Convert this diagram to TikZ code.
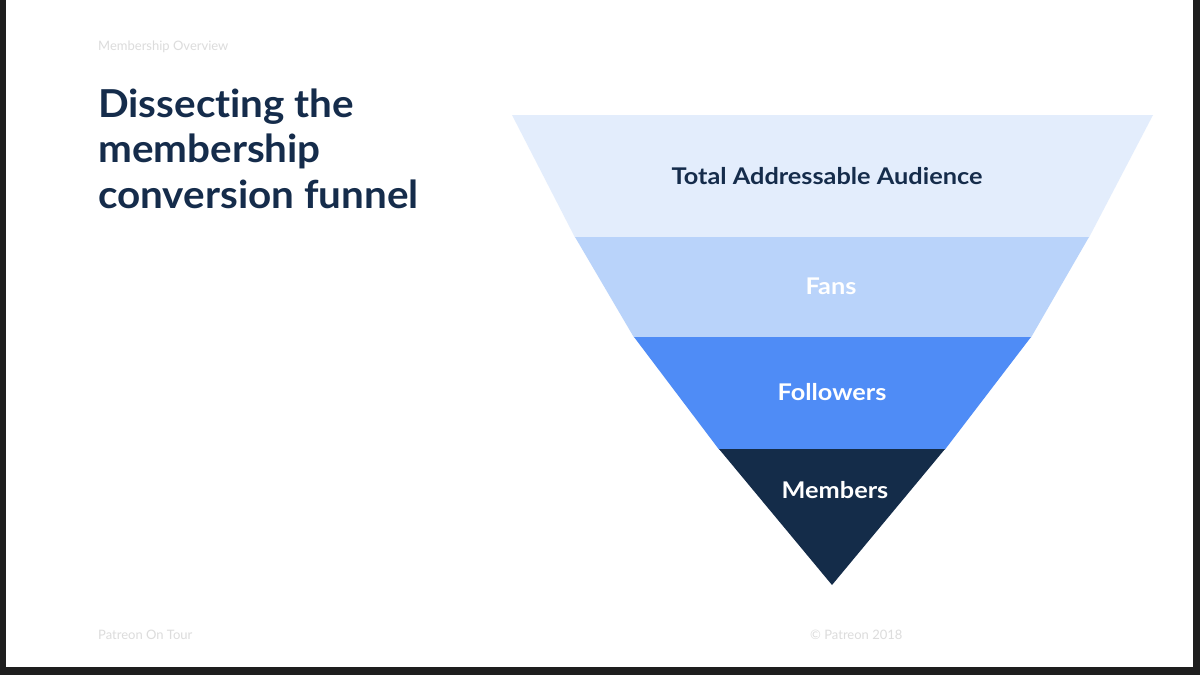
\documentclass[tikz,border=0pt]{standalone}
\usepackage{fontspec}
\setmainfont{Lato}[Ligatures={NoCommon,NoRare}]
\definecolor{navy}{HTML}{152C4B}
\definecolor{bandA}{HTML}{E3EDFC}
\definecolor{bandB}{HTML}{B9D3FA}
\definecolor{bandC}{HTML}{4F8CF6}
\definecolor{bandD}{HTML}{142C49}
\definecolor{faint}{HTML}{DCDCDC}
\definecolor{frame}{HTML}{1E1E1E}
\newcommand{\widen}[2]{\scalebox{#1}[1]{#2}}
\begin{document}
\begin{tikzpicture}[x=1pt,y=-1pt,
  titletext/.style={anchor=base west,inner sep=0pt,text=navy,font=\fontsize{38.5}{44}\selectfont\bfseries},
  smalltext/.style={anchor=base west,inner sep=0pt,text=faint,font=\fontsize{13}{15}\selectfont},
  bandlabel/.style={inner sep=0pt,font=\fontsize{23}{26}\selectfont\bfseries}]
\useasboundingbox (0,0) rectangle (1200,675);
\fill[white] (0,0) rectangle (1200,675);
% frame
\fill[frame] (0,0) rectangle (6,675);
\fill[frame] (1193,0) rectangle (1200,675);
\fill[frame] (0,667) rectangle (1200,675);
% header / footer
\node[smalltext] (hdr) at (98,50) {Membership Overview};
\node[smalltext] (ftl) at (98,639) {Patreon On Tour};
\node[smalltext] (ftr) at (810,639) {© Patreon 2018};
% title
\node[titletext] (t1) at (98,117) {\widen{1.05}{Dissecting the}};
\node[titletext] (t2) at (98,162) {\widen{1.05}{membership}};
\node[titletext] (t3) at (98,208) {\widen{1.05}{conversion funnel}};
% funnel
\fill[bandA] (512,115) -- (1153,115) -- (1089,237.5) -- (575,237.5) -- cycle;
\fill[bandB] (575,237) -- (1089,237) -- (1031,337.5) -- (634,337.5) -- cycle;
\fill[bandC] (634,337) -- (1031,337) -- (945,449.5) -- (719,449.5) -- cycle;
\fill[bandD] (719,449) -- (945,449) -- (832,585) -- cycle;
\node[bandlabel,text=navy] (l1) at (827,176) {\widen{1.1}{Total Addressable Audience}};
\node[bandlabel,text=white] (l2) at (831,286) {\widen{1.1}{Fans}};
\node[bandlabel,text=white] (l3) at (832,392) {\widen{1.1}{Followers}};
\node[bandlabel,text=white] (l4) at (835,490) {\widen{1.1}{Members}};
\end{tikzpicture}
\end{document}
